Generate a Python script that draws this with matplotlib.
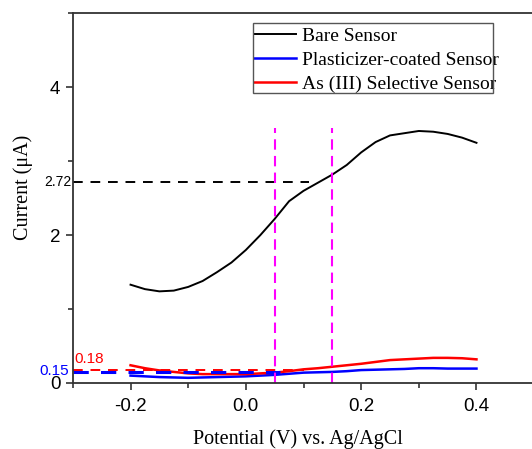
import matplotlib
matplotlib.use("Agg")
import matplotlib.pyplot as plt
from matplotlib.patches import Rectangle
from matplotlib.ticker import MultipleLocator

# Differential pulse response of the three electrodes
potential = [-0.2, -0.175, -0.15, -0.125, -0.1, -0.075, -0.05, -0.025, 0.0,
             0.025, 0.05, 0.075, 0.1, 0.125, 0.15, 0.175, 0.2, 0.225, 0.25,
             0.275, 0.3, 0.325, 0.35, 0.375, 0.4]
bare = [1.33, 1.27, 1.24, 1.25, 1.30, 1.38, 1.50, 1.63, 1.80, 2.00, 2.22,
        2.46, 2.60, 2.71, 2.82, 2.95, 3.12, 3.26, 3.35, 3.38, 3.41, 3.40,
        3.37, 3.32, 3.25]
plasticizer = [0.10, 0.09, 0.08, 0.075, 0.07, 0.075, 0.08, 0.085, 0.09,
               0.10, 0.11, 0.125, 0.14, 0.145, 0.15, 0.16, 0.175, 0.18,
               0.185, 0.19, 0.20, 0.20, 0.195, 0.195, 0.195]
selective = [0.24, 0.20, 0.17, 0.15, 0.13, 0.12, 0.12, 0.12, 0.12, 0.13,
             0.14, 0.16, 0.185, 0.20, 0.22, 0.24, 0.26, 0.285, 0.31, 0.32,
             0.33, 0.34, 0.34, 0.335, 0.32]

# marked current levels and the potential window
peak_levels = [2.72, 0.18, 0.15]
level_colors = ["black", "red", "blue"]
level_ends = [0.11, 0.10, 0.06]
window = [0.05, 0.15]
window_top = 3.45

SERIF = "Liberation Serif"
SANS = "Liberation Sans"

fig = plt.figure(figsize=(5.32, 4.49), dpi=100)
ax = fig.add_axes([0.137, 0.147, 0.867, 0.823])

ax.plot(potential, bare, color="black", lw=1.4, label="Bare Sensor")
ax.plot(potential, plasticizer, color="blue", lw=1.8,
        label="Plasticizer-coated Sensor")
ax.plot(potential, selective, color="red", lw=1.8,
        label="As (III) Selective Sensor")

for lvl, c, xe in zip(peak_levels, level_colors, level_ends):
    lw = 2.2 if c == "blue" else 1.4
    ax.plot([-0.3, xe], [lvl, lvl], color=c, lw=lw, ls=(0, (5, 4)))

for xv in window:
    ax.plot([xv, xv], [0, window_top], color="#FF00FF", lw=1.5,
            ls=(0, (5, 3)))

ax.text(-0.302, peak_levels[0], "2.72", ha="right", va="center",
        fontsize=10, family=SANS, color="black")
ax.text(-0.298, peak_levels[1] + 0.05, "0.18", ha="left", va="bottom",
        fontsize=11, family=SANS, color="red")
ax.text(-0.307, peak_levels[2] + 0.01, "0.15", ha="right", va="center",
        fontsize=11, family=SANS, color="blue")

ax.set_xlim(-0.3, 0.5)
ax.set_ylim(0, 5)
ax.set_xticks([-0.2, 0.0, 0.2, 0.4])
ax.set_xticklabels(["-0.2", "0.0", "0.2", "0.4"])
ax.xaxis.set_minor_locator(MultipleLocator(0.1))
ax.set_yticks([0, 2, 4])
ax.yaxis.set_minor_locator(MultipleLocator(1))

ax.tick_params(which="both", direction="out", color="#333333", width=1.2,
               labelsize=13.5, labelfontfamily=SANS)
ax.tick_params(which="major", length=5)
ax.tick_params(which="minor", length=3.5)
ax.tick_params(axis="x", pad=6)
ax.tick_params(axis="y", pad=4)

ax.spines["right"].set_visible(False)
for side in ("left", "bottom", "top"):
    ax.spines[side].set_color("#333333")
    ax.spines[side].set_linewidth(1.3)

ax.set_xlabel("Potential (V) vs. Ag/AgCl", family=SERIF, fontsize=14.5)
ax.xaxis.set_label_coords(0.487, -0.124)
ax.set_ylabel("Current (\u03bcA)", family=SERIF, fontsize=14.5)
ax.yaxis.set_label_coords(-0.086, 0.53)

leg = ax.legend(loc="upper left", bbox_to_anchor=(0.392, 0.962),
                prop={"family": SERIF, "size": 14}, frameon=False,
                borderpad=0.0, labelspacing=0.33, handlelength=2.2,
                handletextpad=0.3, borderaxespad=0)
# legend border, drawn a little tighter than the entries
ax.add_patch(Rectangle((0.390, 0.786), 0.521, 0.187, transform=ax.transAxes,
                       fill=False, edgecolor="#555555", lw=1.0, zorder=6))

fig.savefig("out.png", dpi=100)
